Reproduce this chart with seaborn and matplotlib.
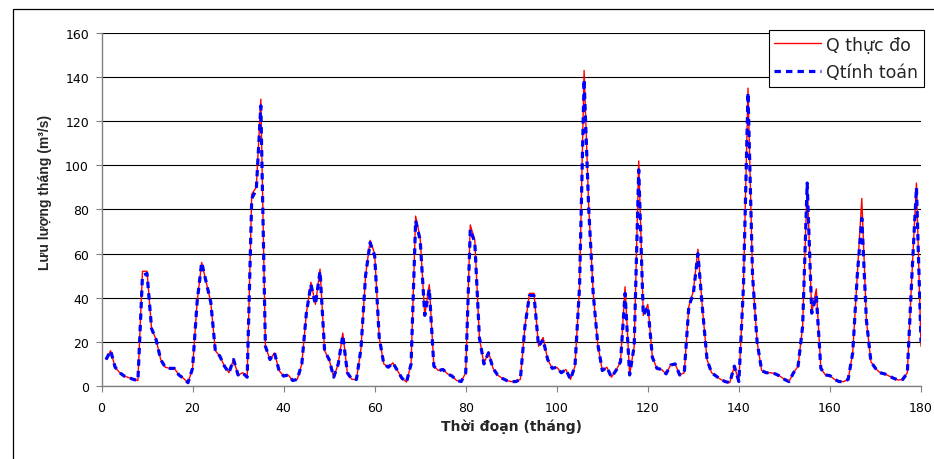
import matplotlib
matplotlib.use("Agg")
import matplotlib.pyplot as plt
import pandas as pd
import seaborn as sns
from matplotlib.patches import Rectangle


# ======================
# Dữ liệu
# ======================

months = list(range(1, 181))

# Lưu lượng thực đo (m3/s)
q_obs = [
    12, 16, 8.5, 6, 4.5, 3.8, 3, 2.5, 52, 52,
    26, 21, 12, 8.5, 8, 8, 5, 3.5, 1.5, 8,
    38, 56, 47, 38, 16, 13.5, 9, 6, 12, 5,
    6, 4, 87, 90, 130, 18, 12, 15, 7, 4.5,
    5, 2.5, 3, 10, 33, 47, 37, 53, 16, 12,
    4, 10, 24, 6, 3, 3, 17, 50, 66, 60,
    22, 10, 8.5, 10.5, 7, 3.5, 1.8, 10, 77, 67,
    32, 46, 9, 7, 7.5, 5.5, 4.5, 2.5, 2, 6,
    73, 66, 22, 10, 15.5, 8, 5, 3.5, 2.5, 2,
    2, 3, 27, 42, 42, 18, 22, 12, 8, 8.5,
    6, 7.5, 3, 9, 45, 143, 82, 42, 19, 7,
    8.5, 4, 7, 11, 45, 5, 18, 102, 32, 37,
    13, 8, 7.5, 5.5, 9.5, 10, 5, 6, 36, 43,
    62, 35, 12, 6, 4.5, 3, 2, 1.5, 9, 2,
    45, 135, 50, 20, 7, 6, 6, 5.5, 4.5, 3,
    2, 6, 9, 27, 92, 33, 44, 8, 5, 4.7,
    3, 2, 2, 3, 15, 50, 85, 30, 11, 8,
    6, 5.5, 4.5, 3.5, 2.7, 3, 6, 50, 92, 18,
]

# Lưu lượng tính toán (m3/s)
q_calc = [
    12, 16, 8.5, 6, 4.5, 3.8, 3, 2.5, 50, 51,
    26, 21, 12, 8.5, 8, 8, 5, 3.5, 1.5, 8,
    38, 56, 47, 38, 16, 13.5, 9, 6, 12, 5,
    6, 4, 85, 89, 127, 18, 12, 15, 7, 4.5,
    5, 2.5, 3, 10, 33, 46, 37, 52, 16, 12,
    4, 10, 23, 6, 3, 3, 17, 50, 65, 59,
    22, 10, 8.5, 10.5, 7, 3.5, 1.8, 10, 75, 66,
    32, 44, 9, 7, 7.5, 5.5, 4.5, 2.5, 2, 6,
    71, 65, 22, 10, 15, 8, 5, 3.5, 2.5, 2,
    2, 3, 27, 41, 41, 18, 21, 12, 8, 8.5,
    6, 7.5, 3, 9, 45, 139, 81, 42, 19, 7,
    8.5, 4, 7, 11, 42, 5, 18, 98, 32, 36,
    13, 8, 7.5, 5.5, 9.5, 10, 5, 6, 36, 42,
    60, 35, 12, 6, 4.5, 3, 2, 1.5, 9, 2,
    45, 133, 50, 20, 7, 6, 6, 5.5, 4.5, 3,
    2, 6, 9, 27, 92, 33, 41, 8, 5, 4.7,
    3, 2, 2, 3, 15, 50, 76, 30, 11, 8,
    6, 5.5, 4.5, 3.5, 2.7, 3, 6, 50, 90, 20,
]

x_ticks = list(range(0, 181, 20))
y_ticks = list(range(0, 161, 20))

df = pd.DataFrame({"Tháng": months, "Q thực đo": q_obs, "Qtính toán": q_calc})


# ======================
# Vẽ biểu đồ
# ======================

sns.set_theme(style="white")
plt.rcParams["font.family"] = ["DejaVu Sans"]

W, H = 934, 460
fig = plt.figure(figsize=(W / 100, H / 100), dpi=100)
ax = fig.add_axes([101.5 / W, 1 - 387 / H, (921 - 101.5) / W, (387 - 34) / H])

sns.lineplot(data=df, x="Tháng", y="Q thực đo", color="#FF0000", lw=1.0,
             ax=ax, label="Q thực đo")
sns.lineplot(data=df, x="Tháng", y="Qtính toán", color="#0000FF", lw=2.3,
             ax=ax, label="Qtính toán")
ax.lines[-1].set_linestyle((0, (2.0, 1.6)))

ax.set_xlim(0, 180)
ax.set_ylim(0, 160)
ax.set_xticks(x_ticks)
ax.set_yticks(y_ticks)

ax.yaxis.grid(True, color="black", lw=0.8)
ax.xaxis.grid(False)
ax.set_axisbelow(True)

for side in ["top", "right"]:
    ax.spines[side].set_visible(False)
for side in ["left", "bottom"]:
    ax.spines[side].set_color("#808080")
    ax.spines[side].set_linewidth(1.0)

ax.tick_params(bottom=True, left=True, direction="out", length=4, width=0.8,
               color="#808080", labelsize=9, labelcolor="black")
ax.tick_params(axis="x", pad=7)
ax.tick_params(axis="y", pad=5)

ax.set_xlabel("Thời đoạn (tháng)", fontsize=10, fontweight="bold")
ax.xaxis.set_label_coords(0.5, (387 - 420) / 353)
ax.set_ylabel("Lưu lượng tháng (m³/s)", fontsize=10, fontweight="bold",
              family=["Liberation Sans", "DejaVu Sans"])
ax.yaxis.set_label_coords((52 - 101.5) / 819.5, (387 - 192) / 353)

handles, labels = ax.get_legend_handles_labels()
leg = ax.legend(handles, labels, loc="upper right",
                bbox_to_anchor=(924 / W, 1 - 31 / H), bbox_transform=fig.transFigure,
                frameon=True, fancybox=False, edgecolor="black", framealpha=1,
                fontsize=12.5, handlelength=2.7, handletextpad=0.3,
                borderpad=0.32, labelspacing=0.55, borderaxespad=0)
leg.get_frame().set_linewidth(0.8)

# khung ngoài của biểu đồ
fig.add_artist(Rectangle((13 / W, -0.1), 1.2, 1.1 - 10 / H, transform=fig.transFigure,
                         fill=False, ec="black", lw=0.9))

fig.savefig("out.png", dpi=100)
